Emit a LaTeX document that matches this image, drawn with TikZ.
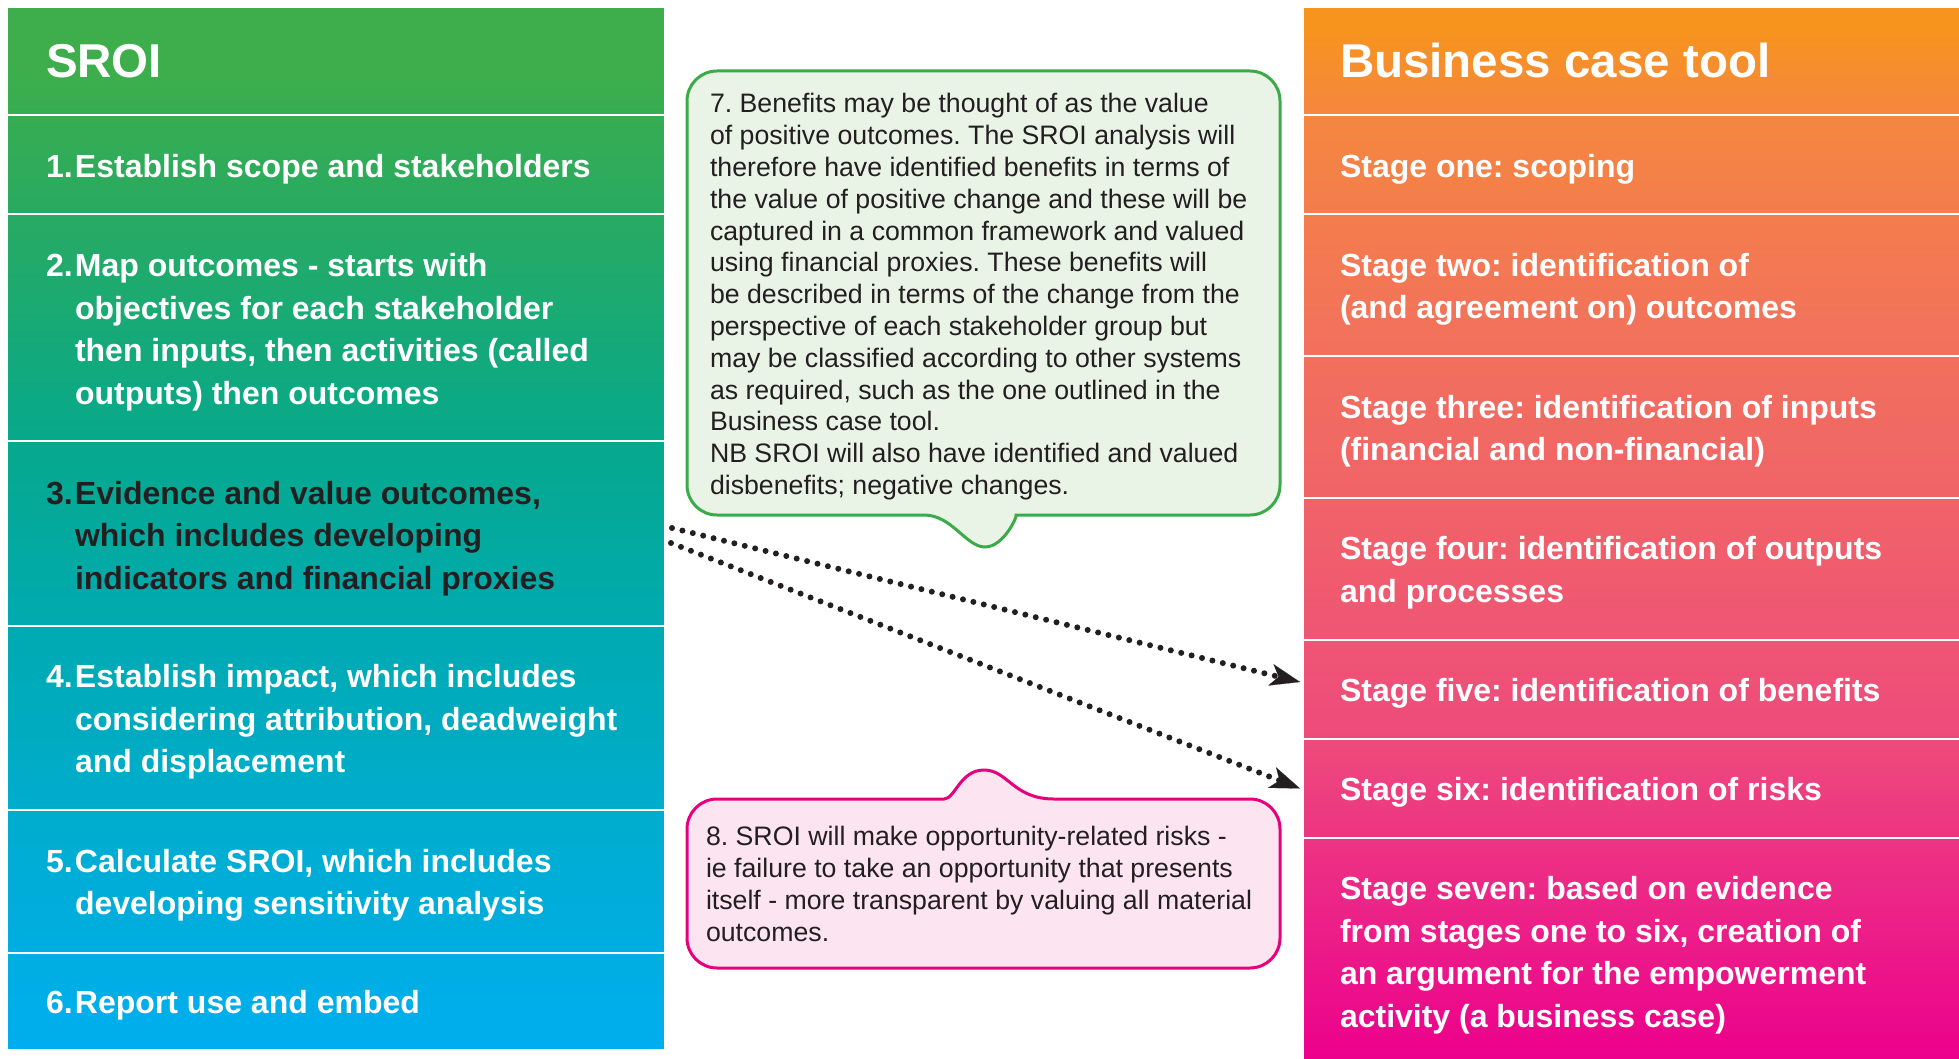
\documentclass[tikz,border=0pt]{standalone}
\usepackage{fontspec}
\setmainfont{Liberation Sans}
\usetikzlibrary{calc,arrows.meta}
\frenchspacing

\definecolor{lA}{HTML}{3DAE4B}
\definecolor{lB}{HTML}{28AA62}
\definecolor{lC}{HTML}{06A98C}
\definecolor{lD}{HTML}{00AAB2}
\definecolor{lE}{HTML}{00ADD2}
\definecolor{lF}{HTML}{00AEEF}
\definecolor{rA}{HTML}{F7941D}
\definecolor{rB}{HTML}{F5873F}
\definecolor{rC}{HTML}{F2735A}
\definecolor{rD}{HTML}{F0606B}
\definecolor{rE}{HTML}{EE4A7C}
\definecolor{rF}{HTML}{EC2587}
\definecolor{rG}{HTML}{EC008C}
\definecolor{darktext}{HTML}{231F20}
\definecolor{gfill}{HTML}{E9F3E6}
\definecolor{gline}{HTML}{3BAA49}
\definecolor{pfill}{HTML}{FCE5F0}
\definecolor{pline}{HTML}{E6007E}

\pgfdeclareverticalshading{leftgrad}{100bp}{color(0bp)=(lF); color(25bp)=(lF); color(35bp)=(lE); color(45bp)=(lD); color(54bp)=(lC); color(65bp)=(lB); color(72bp)=(lA); color(100bp)=(lA)}
\pgfdeclareverticalshading{rightgrad}{100bp}{color(0bp)=(rG); color(25bp)=(rG); color(32.5bp)=(rF); color(40bp)=(rE); color(50bp)=(rD); color(60bp)=(rC); color(70bp)=(rB); color(74bp)=(rA); color(100bp)=(rA)}

\newcommand\numlines[2]{\begin{tabular}{@{}l@{}l@{}}\makebox[29pt][l]{#1}&\begin{tabular}[t]{@{}l@{}}#2\end{tabular}\end{tabular}}
\newcommand\plainlines[1]{\begin{tabular}{@{}l@{}}#1\end{tabular}}

\tikzset{
  rowbox/.style={draw=white, line width=2.5pt, inner sep=0pt, outer sep=0pt, anchor=north west, rectangle},
  lrow/.style={rowbox, minimum width=658pt},
  rrow/.style={rowbox, minimum width=662pt},
  coltxt/.style={inner sep=0pt, outer sep=0pt, anchor=west, text=white, font=\fontsize{32}{42.5}\selectfont\bfseries},
  hdrtxt/.style={inner sep=0pt, outer sep=0pt, anchor=base west, text=white, font=\fontsize{47.5}{50}\selectfont\bfseries},
  calltxt/.style={inner sep=0pt, outer sep=0pt, anchor=north west, text=darktext, font=\fontsize{26.7}{31.8}\selectfont},
  greencall/.style={fill=gfill, draw=gline, line width=3pt, rounded corners=30pt},
  pinkcall/.style={fill=pfill, draw=pline, line width=3pt, rounded corners=30pt},
  dotarrow/.style={draw=darktext, line width=6pt, line cap=round, dash pattern=on 0pt off 10.7pt,
     -{Stealth[length=30pt,width=22pt,inset=8pt,line width=0.1pt]}}
}

\begin{document}
\begin{tikzpicture}[x=1pt,y=-1pt]
\useasboundingbox (0,0) rectangle (1959,1059);

% column backgrounds
\shade[shading=leftgrad] (7,7) rectangle (665,1050);
\shade[shading=rightgrad] (1303,7) rectangle (1959,1059);

% left rows
\node[lrow, minimum height=108pt] (L0) at (7,7) {};
\node[lrow, minimum height=99pt] (L1) at (7,115) {};
\node[lrow, minimum height=227pt] (L2) at (7,214) {};
\node[lrow, minimum height=185pt] (L3) at (7,441) {};
\node[lrow, minimum height=184pt] (L4) at (7,626) {};
\node[lrow, minimum height=143pt] (L5) at (7,810) {};
\node[lrow, minimum height=97pt] (L6) at (7,953) {};

% right rows
\node[rrow, minimum height=108pt] (R0) at (1303,7) {};
\node[rrow, minimum height=99pt] (R1) at (1303,115) {};
\node[rrow, minimum height=142pt] (R2) at (1303,214) {};
\node[rrow, minimum height=142pt] (R3) at (1303,356) {};
\node[rrow, minimum height=142pt] (R4) at (1303,498) {};
\node[rrow, minimum height=99pt] (R5) at (1303,640) {};
\node[rrow, minimum height=99pt] (R6) at (1303,739) {};
\node[rrow, minimum height=230pt] (R7) at (1303,838) {};

% left texts
\node[hdrtxt] (Lt0) at ($(L0.west)+(39,16.8)$) {SROI};
\node[coltxt] (Lt1) at ($(L1.west)+(39,4.5)$) {\numlines{1.}{Establish scope and stakeholders}};
\node[coltxt] (Lt2) at ($(L2.west)+(39,4.5)$) {\numlines{2.}{Map outcomes - starts with\\objectives for each stakeholder\\then inputs, then activities (called\\outputs) then outcomes}};
\node[coltxt, text=darktext] (Lt3) at ($(L3.west)+(39,4.5)$) {\numlines{3.}{Evidence and value outcomes,\\which includes developing\\indicators and financial proxies}};
\node[coltxt] (Lt4) at ($(L4.west)+(39,3.5)$) {\numlines{4.}{Establish impact, which includes\\considering attribution, deadweight\\and displacement}};
\node[coltxt] (Lt5) at ($(L5.west)+(39,3.5)$) {\numlines{5.}{Calculate SROI, which includes\\developing sensitivity analysis}};
\node[coltxt] (Lt6) at ($(L6.west)+(39,3)$) {\numlines{6.}{Report use and embed}};

% right texts
\node[hdrtxt] (Rt0) at ($(R0.west)+(37,16.8)$) {Business case tool};
\node[coltxt] (Rt1) at ($(R1.west)+(37,4.5)$) {\plainlines{Stage one: scoping}};
\node[coltxt] (Rt2) at ($(R2.west)+(37,4)$) {\plainlines{Stage two: identification of\\(and agreement on) outcomes}};
\node[coltxt] (Rt3) at ($(R3.west)+(37,4)$) {\plainlines{Stage three: identification of inputs\\(financial and non-financial)}};
\node[coltxt] (Rt4) at ($(R4.west)+(37,3.5)$) {\plainlines{Stage four: identification of outputs\\and processes}};
\node[coltxt] (Rt5) at ($(R5.west)+(37,3)$) {\plainlines{Stage five: identification of benefits}};
\node[coltxt] (Rt6) at ($(R6.west)+(37,3)$) {\plainlines{Stage six: identification of risks}};
\node[coltxt] (Rt7) at ($(R7.west)+(37,2)$) {\plainlines{Stage seven: based on evidence\\from stages one to six, creation of\\an argument for the empowerment\\activity (a business case)}};

% green callout
\draw[greencall] (985,71) -- (1280,71) -- (1280,515) -- (1046,515) [sharp corners]
   .. controls (1018,515) and (1004,547) .. (985,547)
   .. controls (966,547) and (952,515) .. (924,515) [rounded corners=30pt]
   -- (687,515) -- (687,71) -- cycle;
\node[calltxt] (t7) at (710,90.7) {\plainlines{7. Benefits may be thought of as the value\\of positive outcomes. The SROI analysis will\\therefore have identified benefits in terms of\\the value of positive change and these will be\\captured in a common framework and valued\\using financial proxies. These benefits will\\be described in terms of the change from the\\perspective of each stakeholder group but\\may be classified according to other systems\\as required, such as the one outlined in the\\Business case tool.\\NB SROI will also have identified and valued\\disbenefits; negative changes.}};

% pink callout
\draw[pinkcall] (687,884) -- (687,799) -- (914,799) [sharp corners]
   .. controls (955,799) and (960,770) .. (984,770)
   .. controls (1008,770) and (1013,799) .. (1054,799) [rounded corners=30pt]
   -- (1280,799) -- (1280,968) -- (687,968) -- cycle;
\node[calltxt] (t8) at (706,823.7) {\plainlines{8. SROI will make opportunity-related risks -\\ie failure to take an opportunity that presents\\itself - more transparent by valuing all material\\outcomes.}};

% dotted connectors
\draw[dotarrow] ($(L3.east)+(7,-5.5)$) -- ($(R5.west)+(-3,-7.5)$);
\draw[dotarrow] ($(L3.east)+(6,9.5)$) -- ($(R6.west)+(-3,0)$);
\end{tikzpicture}
\end{document}
